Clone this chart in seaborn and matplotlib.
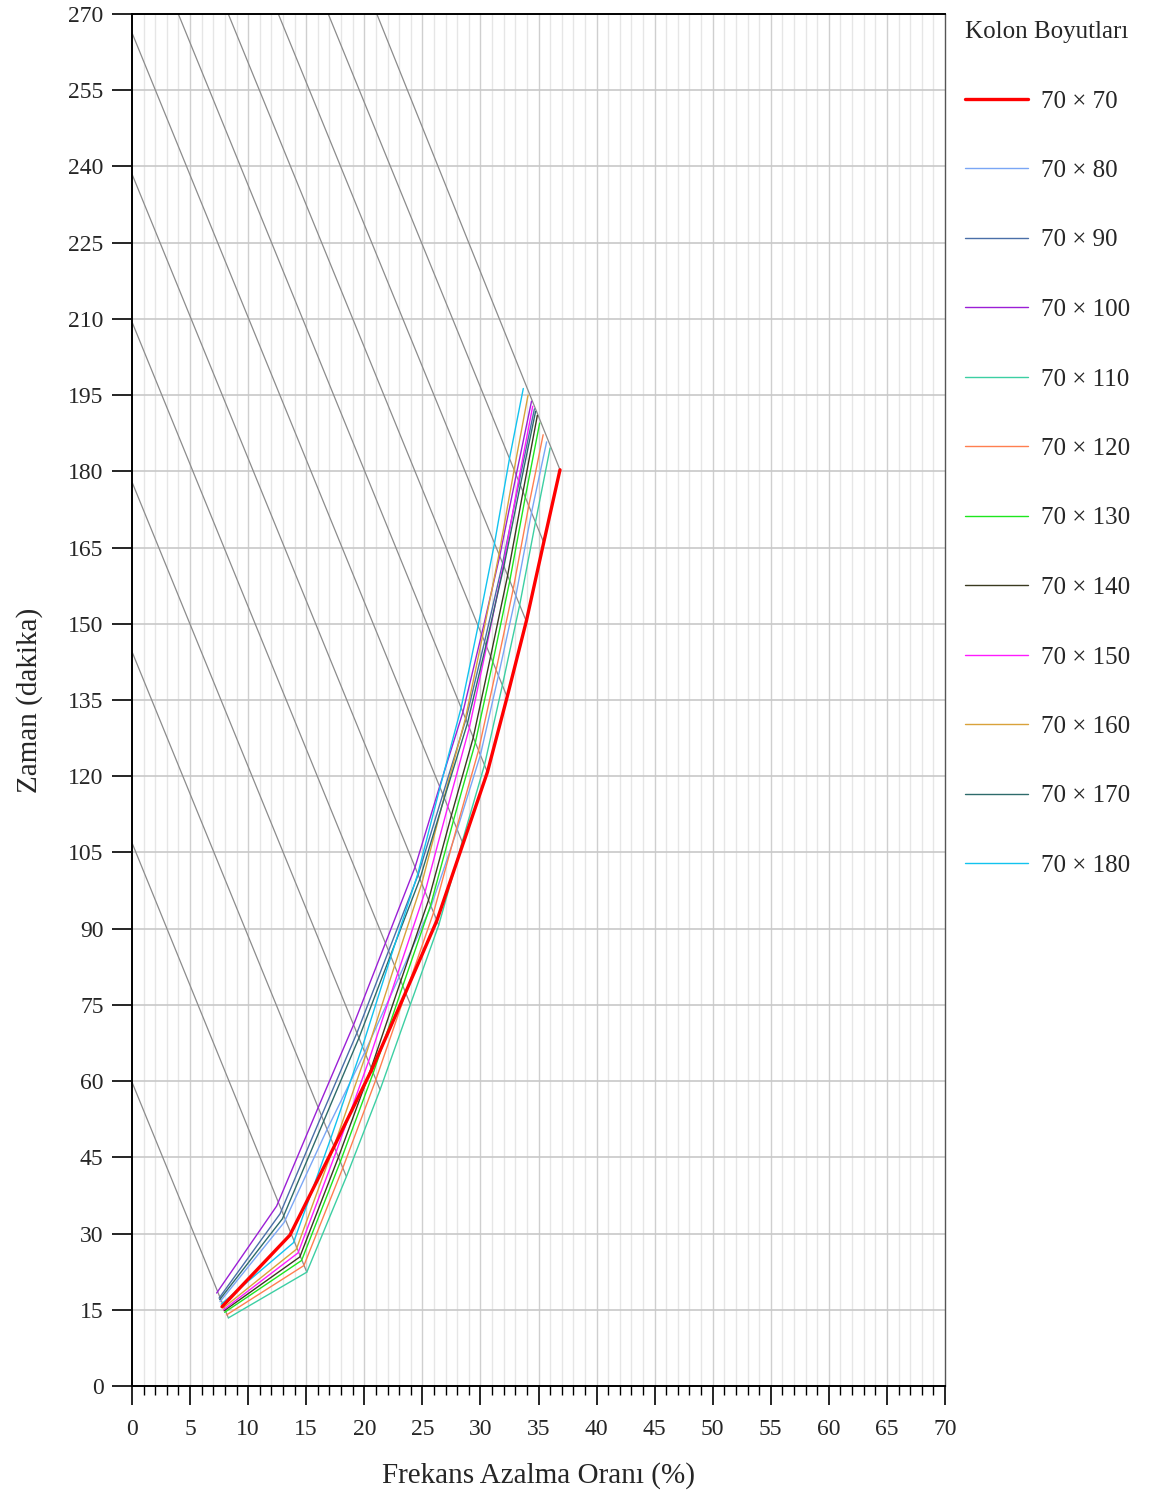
import matplotlib
matplotlib.use("Agg")
import matplotlib.pyplot as plt
import seaborn as sns
import pandas as pd
from matplotlib.lines import Line2D
from matplotlib.ticker import MultipleLocator

# Column sizes (legend order) and their line colours
sizes = ["70 × 70", "70 × 80", "70 × 90", "70 × 100", "70 × 110", "70 × 120",
         "70 × 130", "70 × 140", "70 × 150", "70 × 160", "70 × 170", "70 × 180"]
colors = ["#ff0000", "#7aa6f5", "#4a6fa8", "#9b1fd6", "#3ccfa3", "#ff7f50",
          "#1ee61e", "#3a3a20", "#ff1aff", "#d9a23a", "#2e6b6b", "#12c3ef"]

# Frequency reduction (%) and time (min) for each column size
x_70 = [7.75, 13.60, 17.40, 20.65, 23.55, 26.25, 28.50, 30.60, 32.30, 33.95, 35.45, 36.85]
y_70 = [15.6, 29.7, 47.1, 62.3, 77.4, 91.6, 106.7, 120.8, 135.6, 150.5, 166.0, 180.3]

x_80 = [7.58, 13.10, 16.80, 20.05, 23.00, 25.75, 28.00, 30.00, 31.55, 33.05, 34.40, 35.70]
y_80 = [16.6, 32.2, 50.5, 65.7, 80.5, 94.4, 109.5, 124.2, 139.8, 155.5, 171.9, 185.8]

x_90 = [7.50, 12.75, 16.32, 19.37, 22.09, 24.64, 26.76, 28.75, 30.36, 31.91, 33.33, 34.65]
y_90 = [17.3, 33.9, 53.2, 69.5, 85.6, 100.6, 116.4, 131.2, 146.5, 161.9, 177.9, 192.3]

x_100 = [7.29, 12.45, 16.03, 19.08, 21.81, 24.37, 26.49, 28.49, 30.10, 31.66, 33.08, 34.40]
y_100 = [18.3, 35.4, 54.8, 71.1, 87.1, 102.1, 118.0, 132.6, 147.9, 163.3, 179.3, 193.8]

x_110 = [8.30, 15.05, 18.46, 21.36, 23.97, 26.41, 28.43, 30.35, 31.89, 33.38, 34.74, 36.00]
y_110 = [13.4, 22.4, 41.2, 58.3, 75.1, 90.7, 107.1, 122.2, 137.9, 153.7, 170.0, 184.6]

x_120 = [8.15, 14.80, 18.15, 21.00, 23.56, 25.97, 27.95, 29.84, 31.35, 32.82, 34.16, 35.40]
y_120 = [14.0, 23.7, 42.9, 60.3, 77.3, 93.2, 109.8, 125.1, 140.9, 156.8, 173.2, 187.2]

x_130 = [7.98, 14.60, 17.93, 20.77, 23.31, 25.71, 27.68, 29.56, 31.07, 32.53, 33.86, 35.10]
y_130 = [14.5, 24.7, 44.1, 61.6, 78.7, 94.6, 111.3, 126.6, 142.5, 158.5, 174.9, 189.5]

x_140 = [7.93, 14.45, 17.77, 20.60, 23.14, 25.53, 27.50, 29.38, 30.88, 32.34, 33.67, 34.90]
y_140 = [14.8, 25.4, 45.0, 62.6, 79.7, 95.6, 112.3, 127.6, 143.6, 159.5, 176.0, 191.0]

x_150 = [7.88, 14.30, 17.58, 20.37, 22.88, 25.24, 27.19, 29.04, 30.53, 31.97, 33.28, 34.50]
y_150 = [15.0, 26.2, 46.1, 63.9, 81.2, 97.3, 114.0, 129.5, 145.5, 161.6, 178.2, 192.8]

x_160 = [7.82, 14.15, 17.39, 20.14, 22.61, 24.95, 26.87, 28.71, 30.18, 31.60, 32.90, 34.10]
y_160 = [15.3, 26.9, 47.2, 65.2, 82.7, 98.9, 115.8, 131.4, 147.5, 163.7, 180.3, 195.0]

x_170 = [7.55, 12.95, 16.50, 19.54, 22.25, 24.79, 26.89, 28.88, 30.48, 32.02, 33.44, 34.75]
y_170 = [17.0, 32.9, 52.1, 68.5, 84.7, 99.8, 115.7, 130.4, 145.8, 161.3, 177.3, 191.8]

x_180 = [7.68, 13.90, 17.11, 19.84, 22.29, 24.61, 26.52, 28.34, 29.80, 31.21, 32.50, 33.69]
y_180 = [16.1, 28.2, 48.7, 66.8, 84.5, 100.8, 117.8, 133.5, 149.6, 165.8, 182.5, 196.3]

xs = [x_70, x_80, x_90, x_100, x_110, x_120, x_130, x_140, x_150, x_160, x_170, x_180]
ys = [y_70, y_80, y_90, y_100, y_110, y_120, y_130, y_140, y_150, y_160, y_170, y_180]

# Start points of the grey guide lines (on the left axis, then on the top edge)
guide_x0 = [0, 0, 0, 0, 0, 0, 0, 3.99, 8.29, 12.60, 16.90, 21.08]
guide_y0 = [59.8, 106.9, 144.5, 177.9, 209.4, 238.5, 266.3, 270, 270, 270, 270, 270]

x_ticks = list(range(0, 71, 5))
y_ticks = list(range(0, 271, 15))

rows = []
for lab, xv, yv in zip(sizes, xs, ys):
    for i, (a, b) in enumerate(zip(xv, yv)):
        rows.append({"size": lab, "idx": i, "x": a, "y": b})
df = pd.DataFrame(rows)

sns.set_theme(style="white")
plt.rcParams["font.family"] = ["Liberation Serif", "DejaVu Serif"]

fig = plt.figure(figsize=(11.65, 14.95), dpi=100)
ax = fig.add_axes([132 / 1165, 1 - 1386 / 1495, (945 - 132) / 1165, (1386 - 14) / 1495])

ax.set_xlim(0, 70)
ax.set_ylim(0, 270)

# grid: every 1 % vertically (stronger every 5 %), every 15 min horizontally
for v in range(1, 70):
    ax.axvline(v, color="#cfcfcf" if v % 5 == 0 else "#e6e6e6", lw=1.0, zorder=0)
for h in y_ticks[1:-1]:
    ax.axhline(h, color="#c8c8c8", lw=1.2, zorder=0)

# grey guide lines: from the frame to the outermost point of the same index
for k in range(len(guide_x0)):
    pts = df[df["idx"] == k]
    end = pts.loc[pts["x"].idxmax()]
    ax.plot([guide_x0[k], end["x"]], [guide_y0[k], end["y"]],
            color="#8c8c8c", lw=0.9, zorder=1)

# curves (70 × 70 drawn last and thicker)
order = list(range(1, len(sizes))) + [0]
for i in order:
    sub = df[df["size"] == sizes[i]]
    sns.lineplot(data=sub, x="x", y="y", sort=False, estimator=None,
                 color=colors[i], lw=2.4 if i == 0 else 1.0, ax=ax,
                 legend=False, zorder=3 if i == 0 else 2)

# frame and ticks
for side in ["left", "bottom", "top"]:
    ax.spines[side].set_color("black")
    ax.spines[side].set_linewidth(1.4)
ax.spines["right"].set_color("#555555")
ax.spines["right"].set_linewidth(1.0)

ax.xaxis.set_minor_locator(MultipleLocator(1))
ax.set_xticks(x_ticks)
ax.set_yticks(y_ticks)
ax.tick_params(axis="x", which="major", direction="out", length=13.5, width=1.2,
               color="black", labelsize=17, pad=10, bottom=True)
ax.tick_params(axis="x", which="minor", direction="out", length=6.5, width=1.0,
               color="black", bottom=True)
ax.tick_params(axis="y", which="major", direction="out", length=14.5, width=1.2,
               color="black", labelsize=17, pad=6, left=True)

ax.set_xlabel("Frekans Azalma Oranı (%)", fontsize=21, labelpad=16)
ax.set_ylabel("Zaman (dakika)", fontsize=21, labelpad=18)

# legend on the right
handles = [Line2D([0], [0], color=c, lw=2.4 if i == 0 else 1.0)
           for i, c in enumerate(colors)]
leg = ax.legend(handles, sizes, title="Kolon Boyutları",
                loc="upper left", bbox_to_anchor=(965 / 1165, 1 - 21 / 1495),
                bbox_transform=fig.transFigure, frameon=False,
                fontsize=18, title_fontsize=18, labelspacing=1.88,
                handlelength=2.5, handletextpad=0.55, borderpad=0.0,
                borderaxespad=0.0)
leg._legend_box.align = "left"

fig.savefig("out.png", dpi=100)
